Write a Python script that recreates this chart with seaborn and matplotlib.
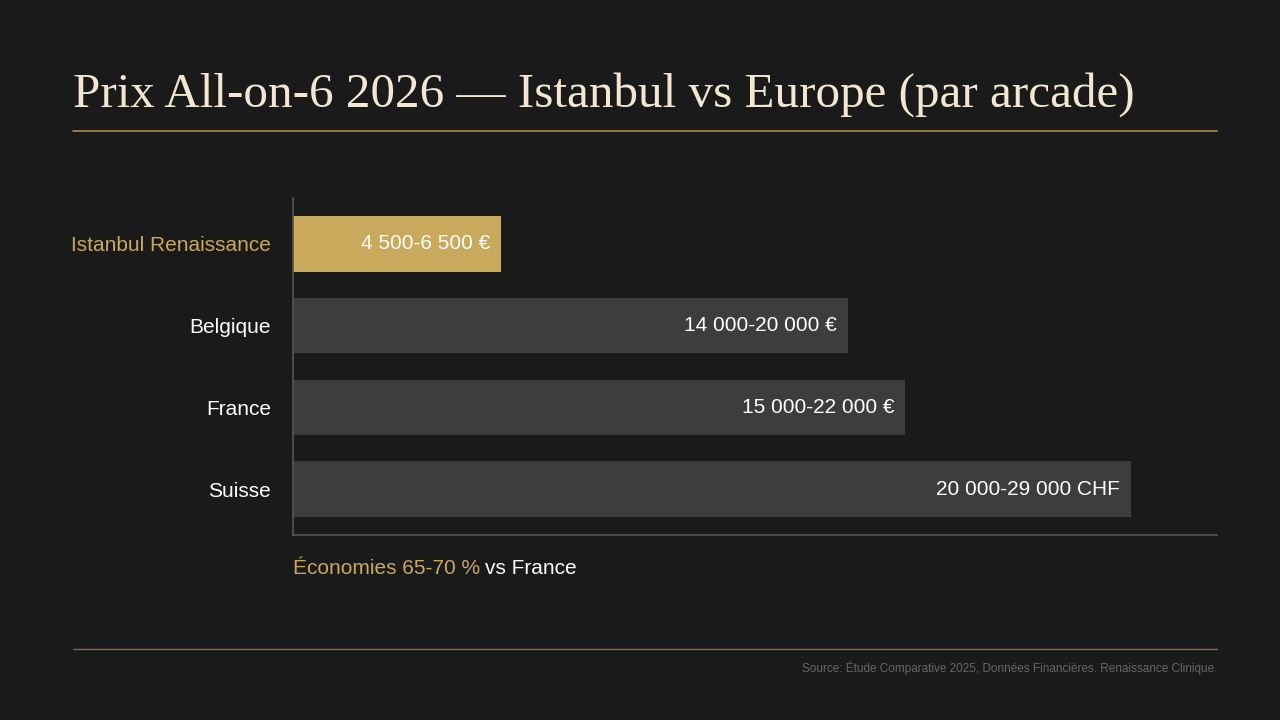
import matplotlib
matplotlib.use('Agg')
import matplotlib.pyplot as plt
import seaborn as sns
import pandas as pd

# ── Data ──────────────────────────────────────────
countries = ['Istanbul Renaissance', 'Belgique', 'France', 'Suisse']
bar_values = [7200, 19200, 21200, 29000]   # bar lengths
labels = ['4 500-6 500 €', '14 000-20 000 €', '15 000-22 000 €', '20 000-29 000 CHF']

BG = '#1a1a1a'
GOLD = '#c9a95c'
GREY = '#3d3d3d'
CREAM = '#f2e8d2'

sns.set_theme(style='dark')
plt.rcParams['font.family'] = ['Liberation Sans', 'DejaVu Sans']

df = pd.DataFrame({'country': countries, 'value': bar_values})

fig = plt.figure(figsize=(12.8, 7.2), dpi=100, facecolor=BG)
ax = fig.add_axes([0.229, 0.257, 0.722, 0.468], facecolor=BG)

sns.barplot(data=df, x='value', y='country', hue='country',
            palette=[GOLD, GREY, GREY, GREY], width=0.68, legend=False,
            saturation=1, edgecolor='none', linewidth=0, ax=ax)

ax.set_xlim(0, 32000)
ax.set_ylim(3.56, -0.56)
ax.set_xlabel('')
ax.set_ylabel('')
ax.set_xticks([])
ax.tick_params(axis='y', length=0, pad=16, labelsize=15)
for tl, c in zip(ax.get_yticklabels(), [GOLD, 'white', 'white', 'white']):
    tl.set_color(c)
for s in ['top', 'right']:
    ax.spines[s].set_visible(False)
for s in ['left', 'bottom']:
    ax.spines[s].set_color('#555555')
    ax.spines[s].set_linewidth(1.2)

for i, (v, lab) in enumerate(zip(bar_values, labels)):
    ax.text(v - 380, i, lab, ha='right', va='center', color='white', fontsize=15)

# ── Title & decorations ────────────────────────────
fig.text(0.057, 0.868, 'Prix All-on-6 2026 — Istanbul vs Europe (par arcade)',
         family=['Liberation Serif', 'DejaVu Serif'], fontsize=35.4, color=CREAM,
         va='center')
fig.add_artist(plt.Line2D([0.057, 0.951], [0.818, 0.818], color=GOLD, lw=1.2, alpha=0.8))
fig.add_artist(plt.Line2D([0.057, 0.951], [0.099, 0.099], color=GOLD, lw=1, alpha=0.6))

t = fig.text(0.229, 0.21, 'Économies 65-70 %', color=GOLD, fontsize=15, va='center')
fig.canvas.draw()
bb = t.get_window_extent()
fig.text((bb.x1 + 5) / fig.bbox.width, 0.21, 'vs France', color='white',
         fontsize=15, va='center')

fig.text(0.951, 0.072, 'Source: Étude Comparative 2025, Données Financières. Renaissance Clinique.',
         ha='right', va='center', color='#666666', fontsize=8.5)

fig.savefig('out.png', dpi=100, facecolor=BG)
